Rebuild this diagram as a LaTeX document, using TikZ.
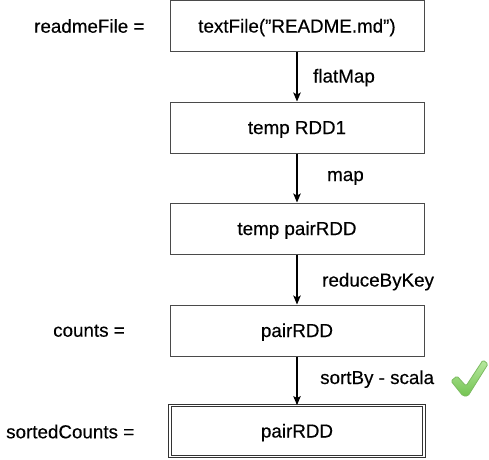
\documentclass[tikz,border=0pt]{standalone}
\usepackage{fontspec}
\setmainfont{Liberation Sans}[FakeBold=0.35]
\usetikzlibrary{arrows.meta}
\definecolor{boxline}{HTML}{4A4A4A}
\definecolor{chkfillA}{HTML}{B8E8A0}
\definecolor{chkfillB}{HTML}{74C452}
\definecolor{chkline}{HTML}{7DBB62}
\tikzset{
  stepbox/.style={draw=boxline, line width=1pt, minimum width=254pt, minimum height=51pt,
    inner sep=0pt, text height=13pt, text depth=0pt, font=\fontsize{18.8}{22}\selectfont},
  finalbox/.style={stepbox, double=white, double distance=1.6pt, line width=0.9pt, draw=black!80},
  lbl/.style={inner sep=0pt, anchor=base west, font=\fontsize{18.8}{22}\selectfont},
  arr/.style={line width=1.1pt, -{Stealth[length=9pt,width=7.5pt,inset=2pt]}}
}
\begin{document}
\begin{tikzpicture}[x=1pt,y=-1pt]
\useasboundingbox (0,0) rectangle (489,459);
\node[stepbox] (b1) at (297,26) {textFile(\char34 README.md\char34)};
\node[stepbox] (b2) at (297,127.5) {temp RDD1};
\node[stepbox] (b3) at (297,228.5) {temp pairRDD};
\node[stepbox] (b4) at (297,330.5) {pairRDD};
\node[finalbox] (b5) at (297,431) {pairRDD};

\draw[arr] (b1.south) -- (b2.north);
\draw[arr] (b2.south) -- (b3.north);
\draw[arr] (b3.south) -- (b4.north);
\draw[arr] (b4.south) -- (b5.north);

\node[lbl] (l1) at (313,82.5) {flatMap};
\node[lbl] (l2) at (327,181) {map};
\node[lbl] (l3) at (322,286.5) {reduceByKey};
\node[lbl] (l4) at (320,384) {sortBy - scala};

\node[lbl] (n1) at (34,32.7) {readmeFile =};
\node[lbl] (n2) at (53,336.7) {counts =};
\node[lbl] (n3) at (6,438.3) {sortedCounts =};

\shade[top color=chkfillA, bottom color=chkfillB, draw=chkline, line width=0.8pt, rounded corners=1.5pt]
  (451,381) -- (457,376) -- (466,386) -- (483,360) -- (488,364) -- (468,396) -- (463,396) -- cycle;
\end{tikzpicture}
\end{document}
